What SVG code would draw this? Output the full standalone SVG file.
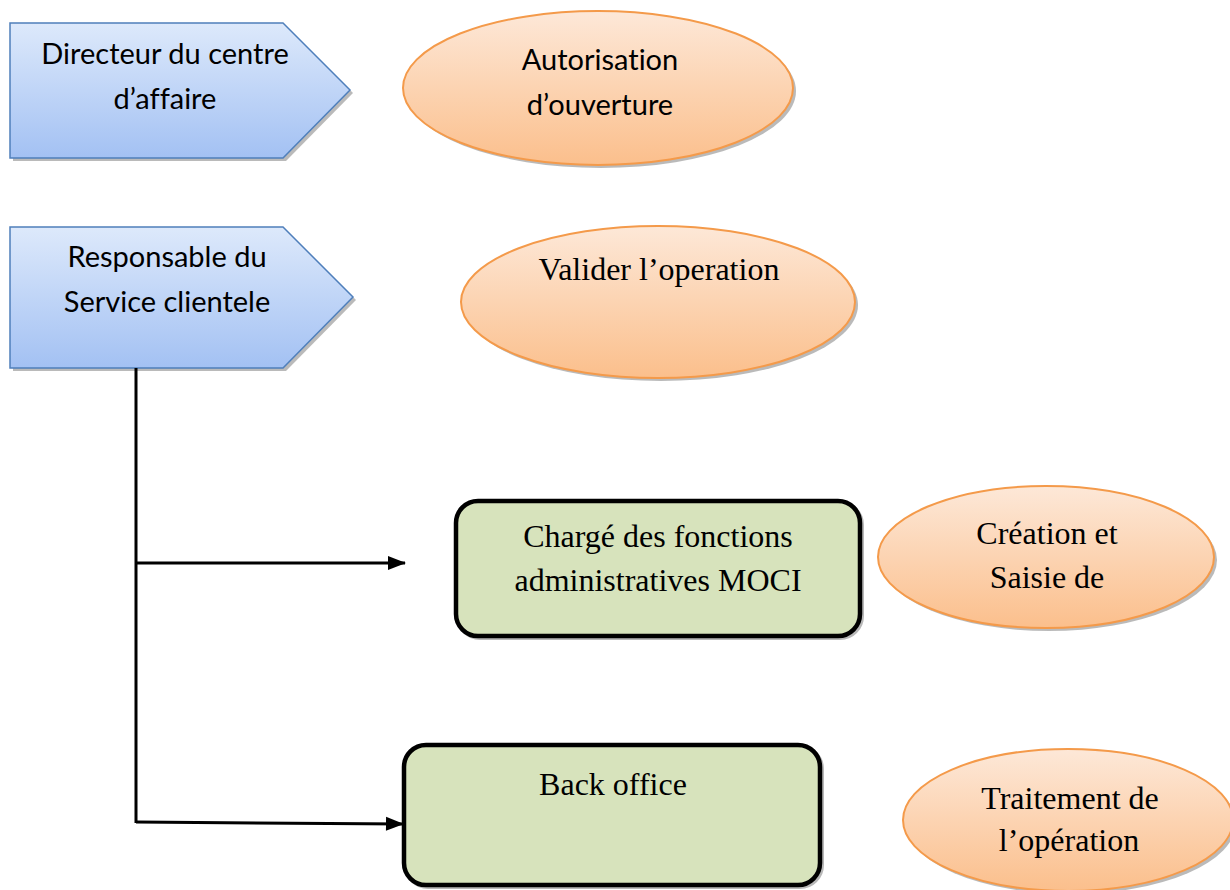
<svg xmlns="http://www.w3.org/2000/svg" width="1230" height="890" viewBox="0 0 1230 890">
  <defs>
    <linearGradient id="blueFill" x1="0" y1="0" x2="0" y2="1">
      <stop offset="0" stop-color="#dde9fb"/>
      <stop offset="1" stop-color="#a3c1f3"/>
    </linearGradient>
    <linearGradient id="orangeFill" x1="0" y1="0" x2="0" y2="1">
      <stop offset="0" stop-color="#fde8d8"/>
      <stop offset="1" stop-color="#fbbf8c"/>
    </linearGradient>
    <marker id="arrow" viewBox="0 0 18 14" refX="17" refY="7" markerWidth="18" markerHeight="14" markerUnits="userSpaceOnUse" orient="auto" overflow="visible">
      <path d="M0,0 L18,7 L0,14 Z" fill="#000"/>
    </marker>
  </defs>
  <style>
    .tag { fill: url(#blueFill); stroke: #4f7fbb; stroke-width: 1.5; }
    .tagShadow { fill: #8c8c8c; opacity: 0.6; }
    .oval { fill: url(#orangeFill); stroke: #f49a4a; stroke-width: 2; }
    .ovalShadow { fill: #8c8c8c; opacity: 0.6; }
    .box { fill: #d7e3bc; stroke: #000; stroke-width: 4.5; }
    .boxShadow { fill: none; stroke: #9a9a9a; stroke-width: 4; opacity: 0.7; }
    .sans { font-family: Lato, "Liberation Sans", sans-serif; font-size: 29px; fill: #000; text-anchor: middle; font-variant-ligatures: none; }
    .serif { font-family: "Liberation Serif", "Times New Roman", serif; font-size: 32px; fill: #000; text-anchor: middle; }
    .link { fill: none; stroke: #000; stroke-width: 3; }
  </style>

  <rect width="1230" height="890" fill="#fff"/>

  <!-- Role tags -->
  <g id="directeur">
    <polygon class="tagShadow" points="13,26 286,26 353,93 286,161 13,161"/>
    <polygon class="tag" points="10,23 283,23 350,90 283,158 10,158"/>
    <text class="sans" x="165" y="64">Directeur du centre</text>
    <text class="sans" x="165" y="109">d’affaire</text>
  </g>

  <g id="responsable">
    <polygon class="tagShadow" points="13,230 286,230 356,300 286,371 13,371"/>
    <polygon class="tag" points="10,227 283,227 353,297 283,368 10,368"/>
    <text class="sans" x="167" y="267">Responsable du</text>
    <text class="sans" x="167" y="312">Service clientele</text>
  </g>

  <!-- Actions -->
  <g id="autorisation">
    <ellipse class="ovalShadow" cx="601" cy="91" rx="195" ry="77"/>
    <ellipse class="oval" cx="598" cy="88" rx="195" ry="77"/>
    <text class="sans" x="600" y="70">Autorisation</text>
    <text class="sans" x="600" y="115">d’ouverture</text>
  </g>

  <g id="valider">
    <ellipse class="ovalShadow" cx="661" cy="305" rx="197" ry="76"/>
    <ellipse class="oval" cx="658" cy="302" rx="197" ry="76"/>
    <text class="serif" x="659" y="280">Valider l’operation</text>
  </g>

  <g id="creation">
    <ellipse class="ovalShadow" cx="1049" cy="560" rx="168" ry="71"/>
    <ellipse class="oval" cx="1046" cy="557" rx="168" ry="71"/>
    <text class="serif" x="1047" y="544">Création et</text>
    <text class="serif" x="1047" y="588">Saisie de</text>
  </g>

  <g id="traitement">
    <ellipse class="ovalShadow" cx="1071" cy="823" rx="165" ry="71"/>
    <ellipse class="oval" cx="1068" cy="820" rx="165" ry="71"/>
    <text class="serif" x="1070" y="809">Traitement de</text>
    <text class="serif" x="1069" y="851">l’opération</text>
  </g>

  <!-- Services -->
  <g id="charge">
    <rect class="boxShadow" x="458" y="503" width="404" height="135" rx="22"/>
    <rect class="box" x="456" y="501" width="404" height="135" rx="22"/>
    <text class="serif" x="658" y="547">Chargé des fonctions</text>
    <text class="serif" x="658" y="591">administratives MOCI</text>
  </g>

  <g id="backoffice">
    <rect class="boxShadow" x="406" y="747" width="416" height="140" rx="22"/>
    <rect class="box" x="404" y="745" width="416" height="140" rx="22"/>
    <text class="serif" x="613" y="795">Back office</text>
  </g>

  <!-- Connectors -->
  <g id="connectors">
    <path class="link" d="M136,368 L136,823"/>
    <path class="link" d="M136,563 L405,563" marker-end="url(#arrow)"/>
    <path class="link" d="M136,822 L403,824" marker-end="url(#arrow)"/>
  </g>
</svg>
